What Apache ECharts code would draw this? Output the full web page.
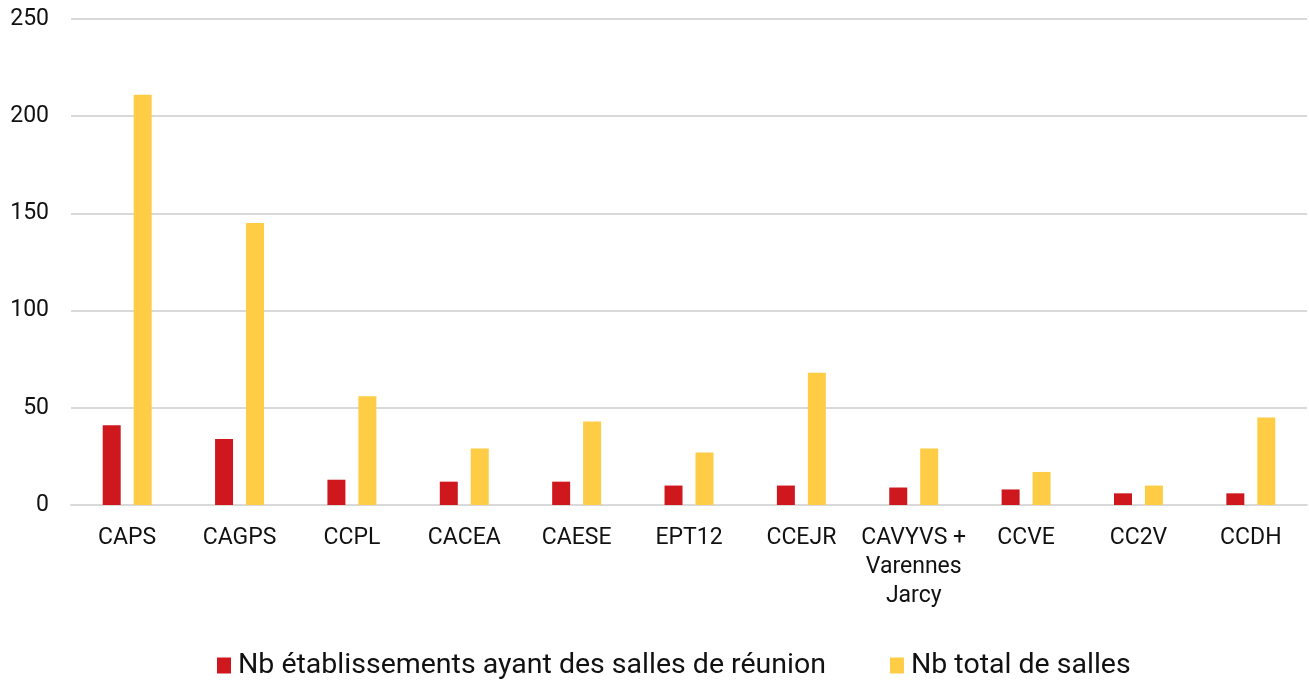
<!DOCTYPE html>
<html>
<head>
<meta charset="utf-8">
<script src="https://cdn.jsdelivr.net/npm/echarts@6/dist/echarts.min.js"></script>
<style>
  html, body { margin: 0; padding: 0; background: #fff; }
  #chart { width: 1309px; height: 680px; }
</style>
</head>
<body>
<div id="chart"></div>
<script>
const categories = ['CAPS', 'CAGPS', 'CCPL', 'CACEA', 'CAESE', 'EPT12', 'CCEJR', 'CAVYVS +\nVarennes\nJarcy', 'CCVE', 'CC2V', 'CCDH'];
const etablissements = [41, 34, 13, 12, 12, 10, 10, 9, 8, 6, 6];
const totalSalles = [211, 145, 56, 29, 43, 27, 68, 29, 17, 10, 45];
const seriesNames = ['Nb établissements ayant des salles de réunion', 'Nb total de salles'];

const chart = echarts.init(document.getElementById('chart'));
chart.setOption({
  animation: false,
  textStyle: { fontFamily: 'Roboto' },
  legend: {
    data: seriesNames,
    top: 646,
    left: 212,
    itemWidth: 14,
    itemHeight: 16,
    itemGap: 64,
    icon: 'rect',
    textStyle: { fontSize: 28.5, color: '#111', fontFamily: 'Roboto', padding: [0, 0, 0, 2] }
  },
  grid: {
    left: 71,
    right: 2,
    top: 19,
    bottom: 175
  },
  xAxis: {
    type: 'category',
    data: categories,
    axisTick: { show: false },
    axisLine: { lineStyle: { color: '#d9d9d9', width: 2 } },
    axisLabel: { fontSize: 23, color: '#111', margin: 19, lineHeight: 29, interval: 0 }
  },
  yAxis: {
    type: 'value',
    min: 0,
    max: 250,
    interval: 50,
    axisLabel: { fontSize: 23, color: '#111', margin: 22 },
    splitLine: { lineStyle: { color: '#d9d9d9', width: 2 } }
  },
  series: [
    {
      name: seriesNames[0],
      type: 'bar',
      data: etablissements,
      barWidth: 18,
      barGap: '72%',
      itemStyle: { color: '#cf181e' }
    },
    {
      name: seriesNames[1],
      type: 'bar',
      data: totalSalles,
      barWidth: 18,
      itemStyle: { color: '#fecc45' }
    }
  ]
});
</script>
</body>
</html>
